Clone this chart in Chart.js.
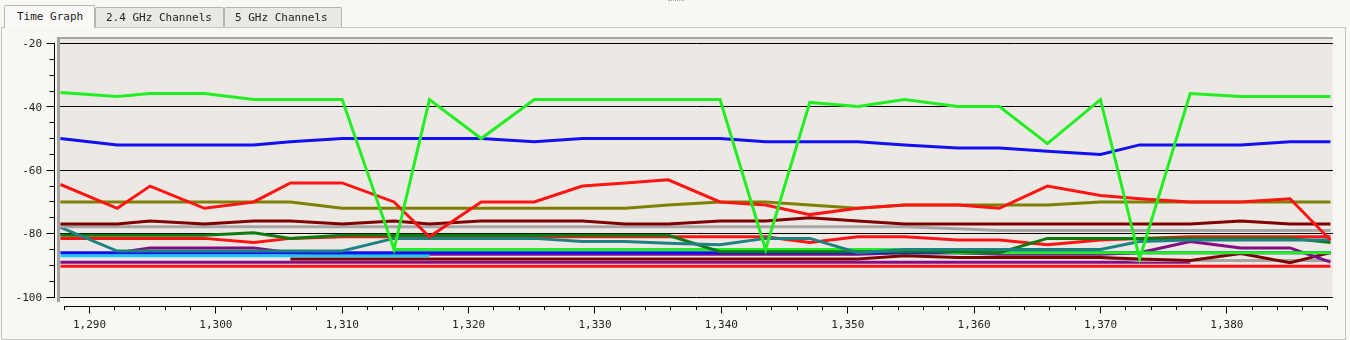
<!DOCTYPE html>
<html><head><meta charset="utf-8">
<script src="https://cdn.jsdelivr.net/npm/chart.js@4.4.0/dist/chart.umd.min.js"></script>
<style>
html,body{margin:0;padding:0;background:#f9f7f4;width:1350px;height:340px;overflow:hidden;}
#panel{position:absolute;left:1px;top:27px;width:1345px;height:313px;box-sizing:border-box;border:1px solid #c6c4c0;}
#c{position:absolute;left:0;top:0;}
.tab{position:absolute;box-sizing:border-box;border:1px solid #b6b4b0;border-bottom:none;font:11px "DejaVu Sans Mono",monospace;color:#222;border-radius:2px 2px 0 0;white-space:nowrap;}
#t1{left:4px;top:5px;width:91px;height:23px;background:#faf9f7;padding-left:12px;line-height:22px;}
#t2{left:95px;top:7px;width:129px;height:20px;background:#ebe9e5;padding-left:10px;line-height:19px;}
#t3{left:224px;top:7px;width:118px;height:20px;background:#ebe9e5;padding-left:10px;line-height:19px;}
#grip{position:absolute;left:668px;top:0px;width:16px;height:0;border-top:1px dotted #aaa;}
</style>
</head><body>
<div id="panel"></div>
<canvas id="c" width="1350" height="340"></canvas>
<div id="grip"></div>
<div class="tab" id="t1">Time Graph</div>
<div class="tab" id="t2">2.4 GHz Channels</div>
<div class="tab" id="t3">5 GHz Channels</div>
<script>
// ---- data ----
const times = [1287.7, 1292.2, 1294.8, 1299.1, 1303.0, 1305.9, 1310.0, 1314.1, 1316.9, 1321.0, 1325.2, 1329.0, 1332.4, 1335.8, 1339.9, 1343.5, 1347.0, 1350.8, 1354.5, 1358.7, 1362.0, 1365.8, 1370.0, 1373.1, 1377.1, 1381.1, 1385.0, 1388.2];

const greenMain = [-35.5, -36.7, -35.8, -35.8, -37.7, -37.7, -37.7, -85, -37.7, -50, -37.7, -37.7, -37.7, -37.7, -37.7, -85, -38.6, -39.9, -37.7, -39.9, -39.9, -51.6, -37.7, -88, -35.8, -36.7, -36.7, -36.7];
const blueTop = [-50, -52, -52, -52, -52, -51, -50, -50, -50, -50, -51, -50, -50, -50, -50, -51, -51, -51, -52, -53, -53, -54, -55, -52, -52, -52, -51, -51];
const redTop = [-64.5, -72, -65, -72, -70, -64, -64, -70, -81, -70, -70, -65, -64, -63, -70, -71, -74, -72, -71, -71, -72, -65, -68, -69, -70, -70, -69, -82];
const olive = [-70, -70, -70, -70, -70, -70, -72, -72, -72, -72, -72, -72, -72, -71, -70, -70, -71, -72, -71, -71, -71, -71, -70, -70, -70, -70, -70, -70];
const maroonTop = [-77, -77, -76, -77, -76, -76, -77, -76, -77, -76, -76, -76, -77, -77, -76, -76, -75, -76, -77, -77, -77, -77, -77, -77, -77, -76, -77, -77];
const grayTop = [-77.8, -77.8, -77.8, -77.8, -77.8, -77.8, -77.8, -77.8, -77.8, -77.8, -77.8, -77.8, -77.8, -77.8, -77.8, -77.8, -77.8, -77.8, -77.8, -78.5, -79, -79, -79, -79, -79, -79, -79, -79];
const darkGreen = [-80.5, -80.5, -80.5, -80.5, -79.7, -81.5, -80.5, -80.5, -80.5, -80.5, -80.5, -80.5, -80.5, -80.5, -85.7, -85.7, -85.7, -85.7, -85.7, -85.7, -86, -81.5, -81.5, -81.5, -81.5, -81.5, -81.5, -82.8];
const redLow = [-81.5, -81.5, -81.5, -81.5, -82.8, -81.5, -81, -81, -81, -81, -81, -81, -81, -81, -81, -81, -82.8, -81, -81, -82, -82, -83.5, -82, -81.5, -81, -81, -81, -81];
const teal = [-78, -85.5, -85.5, -85.5, -85.5, -85.5, -85.5, -81.5, -81.5, -81.5, -81.5, -82.5, -82.5, -83, -83.5, -81.5, -81.5, -86, -85, -85, -85, -85, -85, -82.5, -82, -82, -82, -82];
const greenLow = [null, null, null, null, null, null, null, -85, -85, -85, -85, -85, -85, -85, -85, -85, -85, -85, -85, -86, -86, -86, -86, -86, -86, -86, -86, -86];
const blueLow = [-86, -86, -86, -86, -86, -86, -86, -86, -86, -86, -86, -86, -86, -86, -86, -86, -86, -86, -86, -86, -86, -86, -86, -86, -86, -86, -86, -86];
const cyan = [-87, -87, -87, -87, -87, -87, -87, -87, -87, null, null, null, null, null, null, null, null, null, null, null, null, null, null, null, null, null, null, null];
const purpleTop = [null, -86, -84.5, -84.5, -84.5, -86, -86.5, -86.5, -86.5, -86.5, -86.5, -86.5, -86.5, -86.5, -86.5, -86.5, -86.5, -86.5, -86, -86, -86.5, -86.5, -86.5, -86, -82.5, -84.5, -84.5, -89];
const maroonLow = [null, null, null, null, null, -88, -88, -88, -88, -88, -88, -88, -88, -88, -88, -88, -88, -88, -87, -87.5, -87.5, -87.5, -87.5, -88, -88.5, -86.3, -89.2, -86];
const grayLow = [null, null, null, null, null, null, null, null, null, null, null, null, null, null, null, null, null, null, null, null, null, -87.5, -87.5, -88.5, -88.5, -88.5, -88.5, -88.5];
const purpleLow = [-89, -89, -89, -89, -89, -89, -89, -89, -89, -89, -89, -89, -89, -89, -89, -89, -89, -89, -89, -89, -89, -89, -89, -89, -89, null, null, null];
const redLowest = [-90.3, -90.3, -90.3, -90.3, -90.3, -90.3, -90.3, -90.3, -90.3, -90.3, -90.3, -90.3, -90.3, -90.3, -90.3, -90.3, -90.3, -90.3, -90.3, -90.3, -90.3, -90.3, -90.3, -90.3, -90.3, -90.3, -90.3, -90.3];

const yTickLabels = [-20, -40, -60, -80, -100];
const xTickLabels = [1290, 1300, 1310, 1320, 1330, 1340, 1350, 1360, 1370, 1380];

// ---- chart ----
const X_MIN = 1287.67, X_MAX = 1388.39, Y_MIN = -100, Y_MAX = -17.95;
const FONT = "'DejaVu Sans Mono', monospace";

function mk(label, vals, color) {
  return {
    label, borderColor: color, backgroundColor: color, borderWidth: 3,
    pointRadius: 0, tension: 0, spanGaps: false, fill: false,
    data: times.map((t, i) => ({x: t, y: vals[i]}))
  };
}

const datasets = [
  mk('g1', greenMain, '#22ee22'),
  mk('b1', blueTop, '#1010f0'),
  mk('r1', redTop, '#ff1414'),
  mk('o1', olive, '#808000'),
  mk('m1', maroonTop, '#800000'),
  mk('gr1', grayTop, '#a6a6a6'),
  mk('t1', teal, '#1e8282'),
  mk('dg', darkGreen, '#0f7a0f'),
  mk('r2', redLow, '#ff1414'),
  mk('g2', greenLow, '#22ee22'),
  mk('b2', blueLow, '#1010f0'),
  mk('c1', cyan, '#18c8f8'),
  mk('p1', purpleTop, '#840c84'),
  mk('m2', maroonLow, '#800000'),
  mk('gr2', grayLow, '#a6a6a6'),
  mk('p2', purpleLow, '#840c84'),
  mk('r3', redLowest, '#ff1414')
];

const framePlugin = {
  id: 'frame',
  beforeDraw(chart) {
    const {ctx, chartArea: a} = chart;
    ctx.save();
    ctx.fillStyle = '#ece9e5';
    ctx.fillRect(a.left, a.top, a.right - a.left, a.bottom - a.top);
    ctx.restore();
  },
  afterDraw(chart) {
    const {ctx, chartArea: a} = chart;
    const xs = chart.scales.x, ys = chart.scales.y;
    const al = p => Math.floor(p) + 0.5;
    ctx.save();
    ctx.fillStyle = '#a4a4a4';
    ctx.fillRect(a.left - 3, a.top, 3, a.bottom + 5 - a.top);
    ctx.fillRect(a.left - 3, a.top, a.right - a.left + 3, 2);
    ctx.strokeStyle = '#000';
    ctx.lineWidth = 1;
    ctx.beginPath();
    // y axis
    const ax = a.left - 5.5;
    const yt = ys.ticks;
    ctx.moveTo(ax, al(ys.getPixelForValue(yt[yt.length - 1].value)) - 0.5);
    ctx.lineTo(ax, al(ys.getPixelForValue(yt[0].value)) + 0.5);
    yt.forEach(t => {
      const p = al(ys.getPixelForValue(t.value));
      const major = yTickLabels.includes(t.value);
      ctx.moveTo(major ? ax - 8 : ax - 5, p);
      ctx.lineTo(ax + 0.5, p);
    });
    // x axis
    const ay = a.bottom + 9.5;
    const xt = xs.ticks;
    ctx.moveTo(al(xs.getPixelForValue(xt[0].value)) - 0.5, ay);
    ctx.lineTo(al(xs.getPixelForValue(xt[xt.length - 1].value)) + 0.5, ay);
    xt.forEach(t => {
      const p = al(xs.getPixelForValue(t.value));
      const major = xTickLabels.includes(t.value);
      ctx.moveTo(p, ay - 0.5);
      ctx.lineTo(p, ay + (major ? 7 : 3.5));
    });
    ctx.stroke();
    ctx.restore();
  }
};

new Chart(document.getElementById('c'), {
  type: 'line',
  data: {datasets},
  options: {
    responsive: false,
    animation: false,
    events: [],
    layout: {padding: {top: 37, right: 17, left: 0, bottom: 0}},
    plugins: {legend: {display: false}, tooltip: {enabled: false}},
    scales: {
      x: {
        type: 'linear', min: X_MIN, max: X_MAX,
        afterFit: s => { s.height = 43; },
        ticks: {
          stepSize: 2, includeBounds: false, autoSkip: false, maxRotation: 0, minRotation: 0,
          padding: 22, color: '#222', font: {family: FONT, size: 11},
          callback: v => xTickLabels.includes(v) ? v.toLocaleString('en-US') : ''
        },
        grid: {display: false, drawTicks: false},
        border: {display: false}
      },
      y: {
        type: 'linear', min: Y_MIN, max: Y_MAX,
        afterFit: s => { s.width = 60; },
        ticks: {
          stepSize: 5, includeBounds: false, autoSkip: false, labelOffset: 1,
          padding: 18, color: '#222', font: {family: FONT, size: 11},
          callback: v => yTickLabels.includes(v) ? String(v) : ''
        },
        grid: {
          drawTicks: false, lineWidth: 1,
          color: c => (c.tick && yTickLabels.includes(c.tick.value)) ? '#000' : 'rgba(0,0,0,0)'
        },
        border: {display: false}
      }
    }
  },
  plugins: [framePlugin]
});
</script>
</body></html>
